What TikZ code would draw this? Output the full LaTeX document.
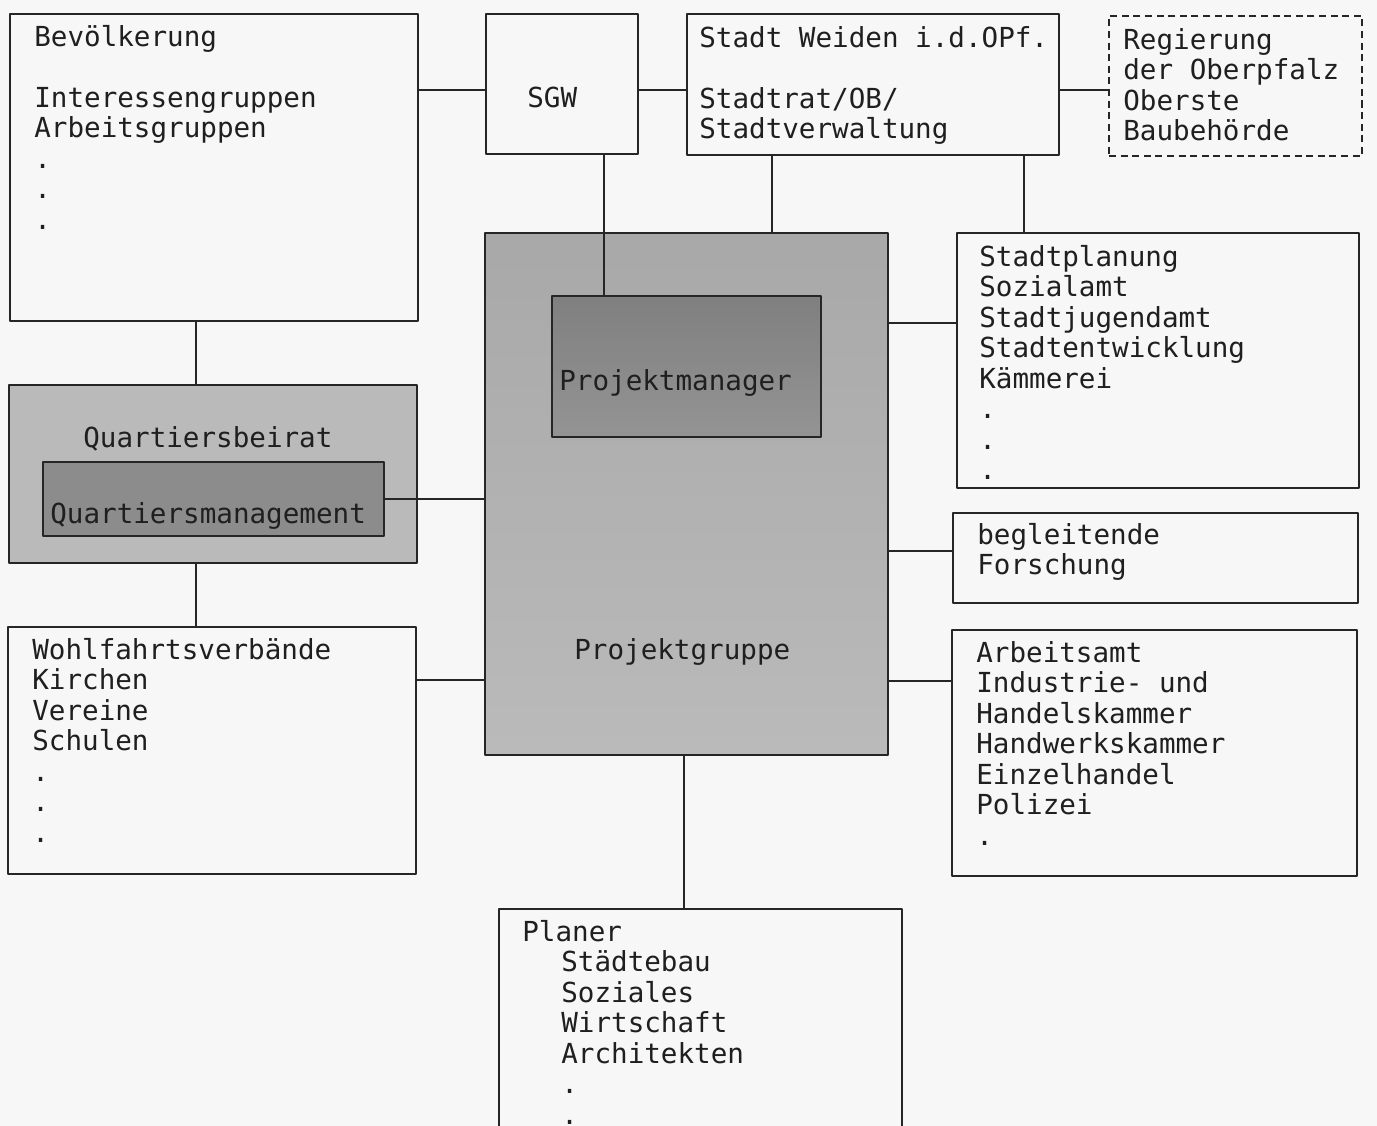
\documentclass[tikz,border=0pt]{standalone}
\usepackage{fontspec}
\newfontfamily\monofont{DejaVu Sans Mono}
\newcommand\boxfont{\monofont\fontsize{15.7pt}{17.36pt}\selectfont}
\usetikzlibrary{fit}

\begin{document}
\begin{tikzpicture}[x=0.02cm,y=-0.02cm,line cap=round,line join=round,
  box/.style={draw=black!85,line width=1.1pt,inner sep=0pt,outer sep=0pt},
  dbox/.style={box,line width=0.9pt,line cap=butt,dash pattern=on 4pt off 2.6pt},
  txt/.style={anchor=north west,inner sep=0pt,align=left,font=\boxfont,text=black!88},
  link/.style={draw=black!85,line width=1pt}]
  \useasboundingbox (0,0) rectangle (1377,1126);
  \fill[black!3] (0,0) rectangle (1377,1126);
  % top row
  \node[box,fit={(10,14) (418,321)}] (bev) {};
  \node[box,fit={(486,14) (638,154)}] (sgw) {};
  \node[box,fit={(687,14) (1059,155)}] (stadt) {};
  \node[dbox,fit={(1109,16) (1362,156)}] (reg) {};
  % centre
  \node[box,fit={(485,233) (888,755)},top color=black!34,middle color=black!20,bottom color=black!27] (pg) {};
  \node[box,fit={(552,296) (821,437)},top color=black!50,bottom color=black!42] (pm) {};
  % left column
  \node[box,fit={(9,385) (417,563)},fill=black!27] (qb) {};
  \node[box,fit={(43,462) (384,536)},fill=black!45] (qm) {};
  \node[box,fit={(8,627) (416,874)}] (wohl) {};
  % right column
  \node[box,fit={(957,233) (1359,488)}] (stp) {};
  \node[box,fit={(953,513) (1358,603)}] (bgl) {};
  \node[box,fit={(952,630) (1357,876)}] (amt) {};
  % bottom
  \node[box,fit={(499,909) (902,1150)}] (plan) {};
  % texts
  \node[txt] (bevtxt) at (34,24.6) {\strut Bevölkerung\\[17.36pt]Interessengruppen\\Arbeitsgruppen\\.\\.\\.};
  \node[txt] (sgwtxt) at (527,85.7) {\strut SGW};
  \node[txt] (stadttxt) at (699,25.6) {\strut Stadt Weiden i.d.OPf.\\[17.36pt]Stadtrat/OB/\\Stadtverwaltung};
  \node[txt] (regtxt) at (1123,27.6) {\strut Regierung\\der Oberpfalz\\Oberste\\Baubehörde};
  \node[txt] (stptxt) at (979,244.6) {\strut Stadtplanung\\Sozialamt\\Stadtjugendamt\\Stadtentwicklung\\Kämmerei\\.\\.\\.};
  \node[txt] (qbtxt) at (83,425.6) {\strut Quartiersbeirat};
  \node[txt] (qmtxt) at (50,501.6) {\strut Quartiersmanagement};
  \node[txt] (pmtxt) at (559,368.6) {\strut Projektmanager};
  \node[txt] (pgtxt) at (574,637.6) {\strut Projektgruppe};
  \node[txt] (wohltxt) at (32,637.6) {\strut Wohlfahrtsverbände\\Kirchen\\Vereine\\Schulen\\.\\.\\.};
  \node[txt] (bgltxt) at (977,522.6) {\strut begleitende\\Forschung};
  \node[txt] (amttxt) at (976,640.6) {\strut Arbeitsamt\\Industrie- und\\Handelskammer\\Handwerkskammer\\Einzelhandel\\Polizei\\.};
  \node[txt] (plantxt) at (522,919.6) {\strut Planer\\\hspace*{22.2pt}Städtebau\\\hspace*{22.2pt}Soziales\\\hspace*{22.2pt}Wirtschaft\\\hspace*{22.2pt}Architekten\\\hspace*{22.2pt}.\\\hspace*{22.2pt}.};
  % connectors
  \draw[link] (bev.east |- 0,90) -- (sgw.west |- 0,90);
  \draw[link] (sgw.east |- 0,90) -- (stadt.west |- 0,90);
  \draw[link] (stadt.east |- 0,90) -- (reg.west |- 0,90);
  \draw[link] (sgw.south -| 604,0) -- (pm.north -| 604,0);
  \draw[link] (stadt.south -| 772,0) -- (pg.north -| 772,0);
  \draw[link] (stadt.south -| 1024,0) -- (stp.north -| 1024,0);
  \draw[link] (bev.south -| 196,0) -- (qb.north -| 196,0);
  \draw[link] (qb.south -| 196,0) -- (wohl.north -| 196,0);
  \draw[link] (qm.east |- 0,499) -- (pg.west |- 0,499);
  \draw[link] (wohl.east |- 0,680) -- (pg.west |- 0,680);
  \draw[link] (pg.east |- 0,323) -- (stp.west |- 0,323);
  \draw[link] (pg.east |- 0,551) -- (bgl.west |- 0,551);
  \draw[link] (pg.east |- 0,681) -- (amt.west |- 0,681);
  \draw[link] (pg.south -| 684,0) -- (plan.north -| 684,0);
\end{tikzpicture}
\end{document}
